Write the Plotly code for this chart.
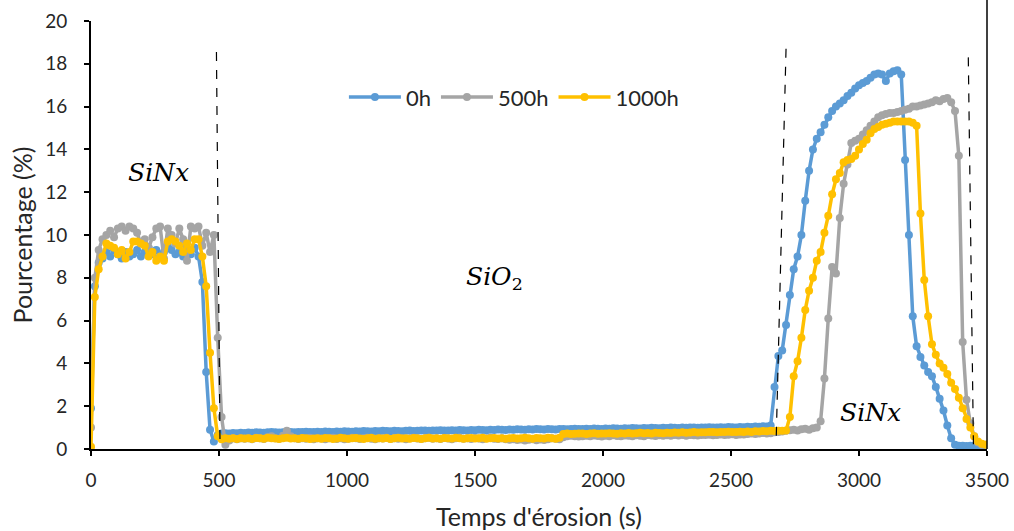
import plotly.graph_objects as go

# Sampling times (s)
time_s = [
    0, 15, 30, 45, 60, 75, 90, 105, 120, 135,
    150, 165, 180, 195, 210, 225, 240, 255, 270, 285,
    300, 315, 330, 345, 360, 375, 390, 405, 420, 435,
    450, 465, 480, 495, 510, 525, 540, 555, 570, 585,
    600, 615, 630, 645, 660, 675, 690, 705, 720, 735,
    750, 765, 780, 795, 810, 825, 840, 855, 870, 885,
    900, 915, 930, 945, 960, 975, 990, 1005, 1020, 1035,
    1050, 1065, 1080, 1095, 1110, 1125, 1140, 1155, 1170, 1185,
    1200, 1215, 1230, 1245, 1260, 1275, 1290, 1305, 1320, 1335,
    1350, 1365, 1380, 1395, 1410, 1425, 1440, 1455, 1470, 1485,
    1500, 1515, 1530, 1545, 1560, 1575, 1590, 1605, 1620, 1635,
    1650, 1665, 1680, 1695, 1710, 1725, 1740, 1755, 1770, 1785,
    1800, 1815, 1830, 1845, 1860, 1875, 1890, 1905, 1920, 1935,
    1950, 1965, 1980, 1995, 2010, 2025, 2040, 2055, 2070, 2085,
    2100, 2115, 2130, 2145, 2160, 2175, 2190, 2205, 2220, 2235,
    2250, 2265, 2280, 2295, 2310, 2325, 2340, 2355, 2370, 2385,
    2400, 2415, 2430, 2445, 2460, 2475, 2490, 2505, 2520, 2535,
    2550, 2565, 2580, 2595, 2610, 2625, 2640, 2655, 2670, 2685,
    2700, 2715, 2730, 2745, 2760, 2775, 2790, 2805, 2820, 2835,
    2850, 2865, 2880, 2895, 2910, 2925, 2940, 2955, 2970, 2985,
    3000, 3015, 3030, 3045, 3060, 3075, 3090, 3105, 3120, 3135,
    3150, 3165, 3180, 3195, 3210, 3225, 3240, 3255, 3270, 3285,
    3300, 3315, 3330, 3345, 3360, 3375, 3390, 3405, 3420, 3435,
    3450, 3465, 3480, 3495,
]

# 0h
pct_0h = [
    1.9, 7.6, 8.7, 8.9, 9.2, 9.0, 9.3, 9.1, 8.9, 9.2,
    9.0, 9.1, 9.3, 9.0, 9.2, 9.4, 9.1, 9.3, 9.0, 9.2,
    9.5, 9.3, 9.1, 9.2, 9.0, 9.3, 9.1, 9.4, 9.0, 7.8,
    3.6, 0.9, 0.35, 0.65, 0.72, 0.74, 0.73, 0.75, 0.74, 0.76,
    0.75, 0.77, 0.76, 0.78, 0.77, 0.76, 0.78, 0.79, 0.78, 0.77,
    0.78, 0.80, 0.79, 0.78, 0.80, 0.79, 0.81, 0.80, 0.79, 0.81,
    0.80, 0.82, 0.81, 0.80, 0.82, 0.81, 0.83, 0.82, 0.81, 0.83,
    0.82, 0.84, 0.83, 0.82, 0.84, 0.83, 0.85, 0.84, 0.83, 0.85,
    0.84, 0.83, 0.85, 0.86, 0.84, 0.85, 0.87, 0.86, 0.85, 0.87,
    0.86, 0.88, 0.87, 0.86, 0.88, 0.87, 0.89, 0.88, 0.87, 0.89,
    0.88, 0.90, 0.89, 0.88, 0.90, 0.89, 0.91, 0.90, 0.89, 0.91,
    0.90, 0.92, 0.91, 0.90, 0.92, 0.91, 0.93, 0.92, 0.91, 0.93,
    0.92, 0.91, 0.93, 0.94, 0.92, 0.93, 0.95, 0.94, 0.93, 0.95,
    0.94, 0.96, 0.95, 0.94, 0.96, 0.95, 0.97, 0.96, 0.95, 0.97,
    0.96, 0.98, 0.97, 0.96, 0.98, 0.97, 0.99, 0.98, 0.97, 0.99,
    0.98, 1.00, 0.99, 0.98, 1.00, 0.99, 1.01, 1.00, 0.99, 1.01,
    1.00, 1.02, 1.01, 1.00, 1.02, 1.01, 1.03, 1.02, 1.01, 1.03,
    1.02, 1.04, 1.03, 1.05, 1.04, 1.06, 1.05, 1.10, 2.9, 4.35,
    4.6, 5.8, 7.2, 8.4, 9.0, 10.0, 11.6, 13.0, 14.0, 14.5,
    14.8, 15.15, 15.5, 15.8, 16.0, 16.15, 16.3, 16.5, 16.65, 16.85,
    17.0, 17.1, 17.2, 17.35, 17.5, 17.55, 17.5, 17.2, 17.55, 17.65,
    17.7, 17.5, 13.5, 10.0, 6.2, 4.8, 4.3, 3.9, 3.6, 3.4,
    2.9, 2.35, 1.8, 1.1, 0.5, 0.2, 0.15, 0.15, 0.14, 0.15,
    0.15, 0.14, 0.15, 0.15,
]

# 500h
pct_500h = [
    1.0, 8.0, 9.3, 9.8, 10.0, 10.2, 9.9, 10.3, 10.4, 10.2,
    10.4, 10.3, 10.1, 9.6, 9.8, 9.4, 9.9, 10.3, 10.4, 8.9,
    10.3, 10.0, 9.6, 10.3, 9.8, 8.8, 10.4, 10.3, 10.4, 9.5,
    10.1, 9.2, 10.0, 5.2, 1.5, 0.2, 0.4, 0.5, 0.45, 0.5,
    0.48, 0.5, 0.46, 0.52, 0.5, 0.47, 0.55, 0.6, 0.5, 0.48,
    0.62, 0.85, 0.6, 0.5, 0.47, 0.5, 0.48, 0.52, 0.46, 0.5,
    0.49, 0.45, 0.5, 0.52, 0.47, 0.5, 0.46, 0.48, 0.52, 0.5,
    0.47, 0.5, 0.53, 0.48, 0.46, 0.5, 0.49, 0.52, 0.47, 0.5,
    0.48, 0.51, 0.46, 0.5, 0.53, 0.49, 0.47, 0.5, 0.52, 0.48,
    0.5, 0.47, 0.51, 0.49, 0.46, 0.5, 0.53, 0.48, 0.5, 0.47,
    0.51, 0.49, 0.46, 0.5, 0.52, 0.48, 0.47, 0.5, 0.45, 0.43,
    0.45, 0.42, 0.44, 0.4, 0.43, 0.45, 0.41, 0.44, 0.42, 0.45,
    0.5, 0.48, 0.45, 0.55, 0.6, 0.62, 0.6, 0.58, 0.6, 0.62,
    0.6, 0.63, 0.61, 0.58, 0.62, 0.6, 0.64, 0.61, 0.6, 0.63,
    0.62, 0.6, 0.64, 0.62, 0.6, 0.65, 0.63, 0.61, 0.64, 0.62,
    0.64, 0.62, 0.66, 0.63, 0.65, 0.62, 0.66, 0.64, 0.63, 0.66,
    0.65, 0.67, 0.64, 0.66, 0.68, 0.65, 0.67, 0.69, 0.66, 0.68,
    0.68, 0.7, 0.72, 0.7, 0.73, 0.75, 0.72, 0.74, 0.78, 0.8,
    0.82, 0.85, 0.88, 0.9, 0.86, 0.92, 0.95, 0.9, 0.97, 1.0,
    1.3, 3.3, 6.1, 8.5, 8.2, 10.8, 12.4, 13.3, 14.3, 14.4,
    14.5, 14.7, 14.9, 15.1, 15.3, 15.5, 15.6, 15.65, 15.7, 15.7,
    15.75, 15.8, 15.85, 15.9, 16.0, 16.0, 16.05, 16.1, 16.15, 16.2,
    16.3, 16.25, 16.35, 16.4, 16.2, 15.8, 13.7, 5.0, 2.3, 1.2,
    0.6, 0.3, 0.2, 0.2,
]

# 1000h
pct_1000h = [
    0.1, 7.1, 8.4, 9.0, 9.6, 9.5, 9.4, 9.1, 9.3, 8.9,
    9.2, 9.7, 9.7, 9.6, 9.5, 9.0, 9.2, 8.8, 9.0, 8.8,
    9.7, 9.8, 9.7, 9.5, 9.2, 9.6, 9.3, 9.8, 9.8, 9.0,
    7.6, 4.5, 1.9, 0.6, 0.45, 0.5, 0.48, 0.5, 0.47, 0.5,
    0.49, 0.5, 0.47, 0.51, 0.5, 0.48, 0.52, 0.5, 0.49, 0.47,
    0.5, 0.52, 0.49, 0.5, 0.48, 0.51, 0.5, 0.47, 0.49, 0.5,
    0.48, 0.51, 0.5, 0.47, 0.49, 0.52, 0.5, 0.48, 0.5, 0.51,
    0.49, 0.47, 0.5, 0.52, 0.48, 0.5, 0.49, 0.51, 0.47, 0.5,
    0.52, 0.49, 0.5, 0.48, 0.51, 0.5, 0.47, 0.5, 0.52, 0.49,
    0.5, 0.48, 0.51, 0.5, 0.49, 0.52, 0.5, 0.48, 0.5, 0.51,
    0.49, 0.5, 0.52, 0.48, 0.5, 0.51, 0.49, 0.5, 0.48, 0.5,
    0.51, 0.49, 0.5, 0.52, 0.5, 0.48, 0.51, 0.5, 0.49, 0.52,
    0.5, 0.48, 0.52, 0.7, 0.72, 0.7, 0.71, 0.73, 0.72, 0.7,
    0.72, 0.74, 0.71, 0.73, 0.72, 0.74, 0.73, 0.71, 0.74, 0.73,
    0.75, 0.73, 0.74, 0.76, 0.74, 0.75, 0.73, 0.76, 0.75, 0.74,
    0.76, 0.75, 0.77, 0.76, 0.78, 0.76, 0.77, 0.79, 0.77, 0.78,
    0.78, 0.8, 0.79, 0.78, 0.8, 0.79, 0.81, 0.8, 0.79, 0.81,
    0.8, 0.82, 0.8, 0.83, 0.82, 0.84, 0.83, 0.85, 0.84, 0.85,
    0.85, 0.86, 1.5, 3.4, 4.1, 5.2, 6.5, 7.4, 8.0, 8.8,
    9.2, 10.1, 10.9, 11.9, 12.6, 12.9, 13.4, 13.5, 13.55, 13.7,
    14.0, 14.25, 14.45, 14.75, 14.95, 15.05, 15.15, 15.2, 15.25, 15.3,
    15.3, 15.3, 15.3, 15.3, 15.25, 15.1, 11.0, 7.9, 6.2, 4.9,
    4.4, 4.0, 3.8, 3.5, 3.1, 2.8, 2.4, 1.9, 1.4, 1.0,
    0.6, 0.35, 0.25, 0.2,
]

series_names = ["0h", "500h", "1000h"]
series_colors = ["#5B9BD5", "#A5A5A5", "#FFC000"]

# Layer boundaries (dashed guides): (t_top, pct_top, t_bottom, pct_bottom)
boundary_lines = [
    (490, 18.55, 504, 0.2),
    (2715, 18.7, 2676, 0.2),
    (3427, 18.3, 3447, 0.2),
]

# Layer labels: (text, t, pct)
layer_labels = [
    ("<i>SiNx</i>", 262, 12.9),
    ("<i>SiO</i><sub>2</sub>", 1578, 8.0),
    ("<i>SiNx</i>", 3043, 1.7),
]

x_title = "Temps d'érosion (s)"
y_title = "Pourcentage (%)"

txt_font = "Lato, 'Open Sans', sans-serif"
txt_color = "#262626"

fig = go.Figure()
for name, color, vals in zip(series_names, series_colors, [pct_0h, pct_500h, pct_1000h]):
    fig.add_trace(go.Scatter(
        x=time_s, y=vals, name=name, mode="lines+markers",
        line=dict(color=color, width=3.5),
        marker=dict(color=color, size=8),
    ))

for (x0, y0, x1, y1) in boundary_lines:
    fig.add_shape(type="line", xref="x", yref="y", x0=x0, y0=y0, x1=x1, y1=y1,
                  line=dict(color="black", width=1.2, dash="dash"), layer="above")

for (txt, x, y) in layer_labels:
    fig.add_annotation(x=x, y=y, xref="x", yref="y", text=txt, showarrow=False,
                       font=dict(family="'DejaVu Serif', serif", size=25, color="black"))

# right frame line
fig.add_shape(type="line", xref="paper", yref="paper", x0=1, x1=1, y0=0, y1=1.06,
              line=dict(color="black", width=1.5), layer="above")

fig.update_layout(
    width=1014, height=531,
    margin=dict(l=91, r=27, t=21, b=82, autoexpand=False),
    paper_bgcolor="white", plot_bgcolor="white",
    font=dict(family=txt_font, size=19, color=txt_color),
    legend=dict(orientation="h", x=0.472, xanchor="center", y=0.822, yanchor="middle",
                bgcolor="rgba(0,0,0,0)", font=dict(size=22, color=txt_color),
                itemwidth=52),
    showlegend=True,
)
fig.update_xaxes(
    range=[0, 3500], dtick=500, tick0=0, showgrid=False, zeroline=False,
    showline=True, linecolor="black", linewidth=1.75, automargin=False,
    ticks="outside", ticklen=5, tickcolor="black", tickwidth=1.5,
    ticklabelstandoff=8,
    title=dict(text=x_title, font=dict(size=25), standoff=20),
    tickfont=dict(size=19),
)
fig.update_yaxes(
    range=[0, 20], dtick=2, tick0=0, showgrid=False, zeroline=False,
    showline=True, linecolor="black", linewidth=1.75, automargin=False,
    ticks="outside", ticklen=5, tickcolor="black", tickwidth=1.5,
    ticklabelstandoff=13,
    title=dict(text=y_title, font=dict(size=25), standoff=6),
    tickfont=dict(size=19),
)

fig.write_html("out.html", config={"displayModeBar": False},
               post_script="document.body.style.margin='0';")
